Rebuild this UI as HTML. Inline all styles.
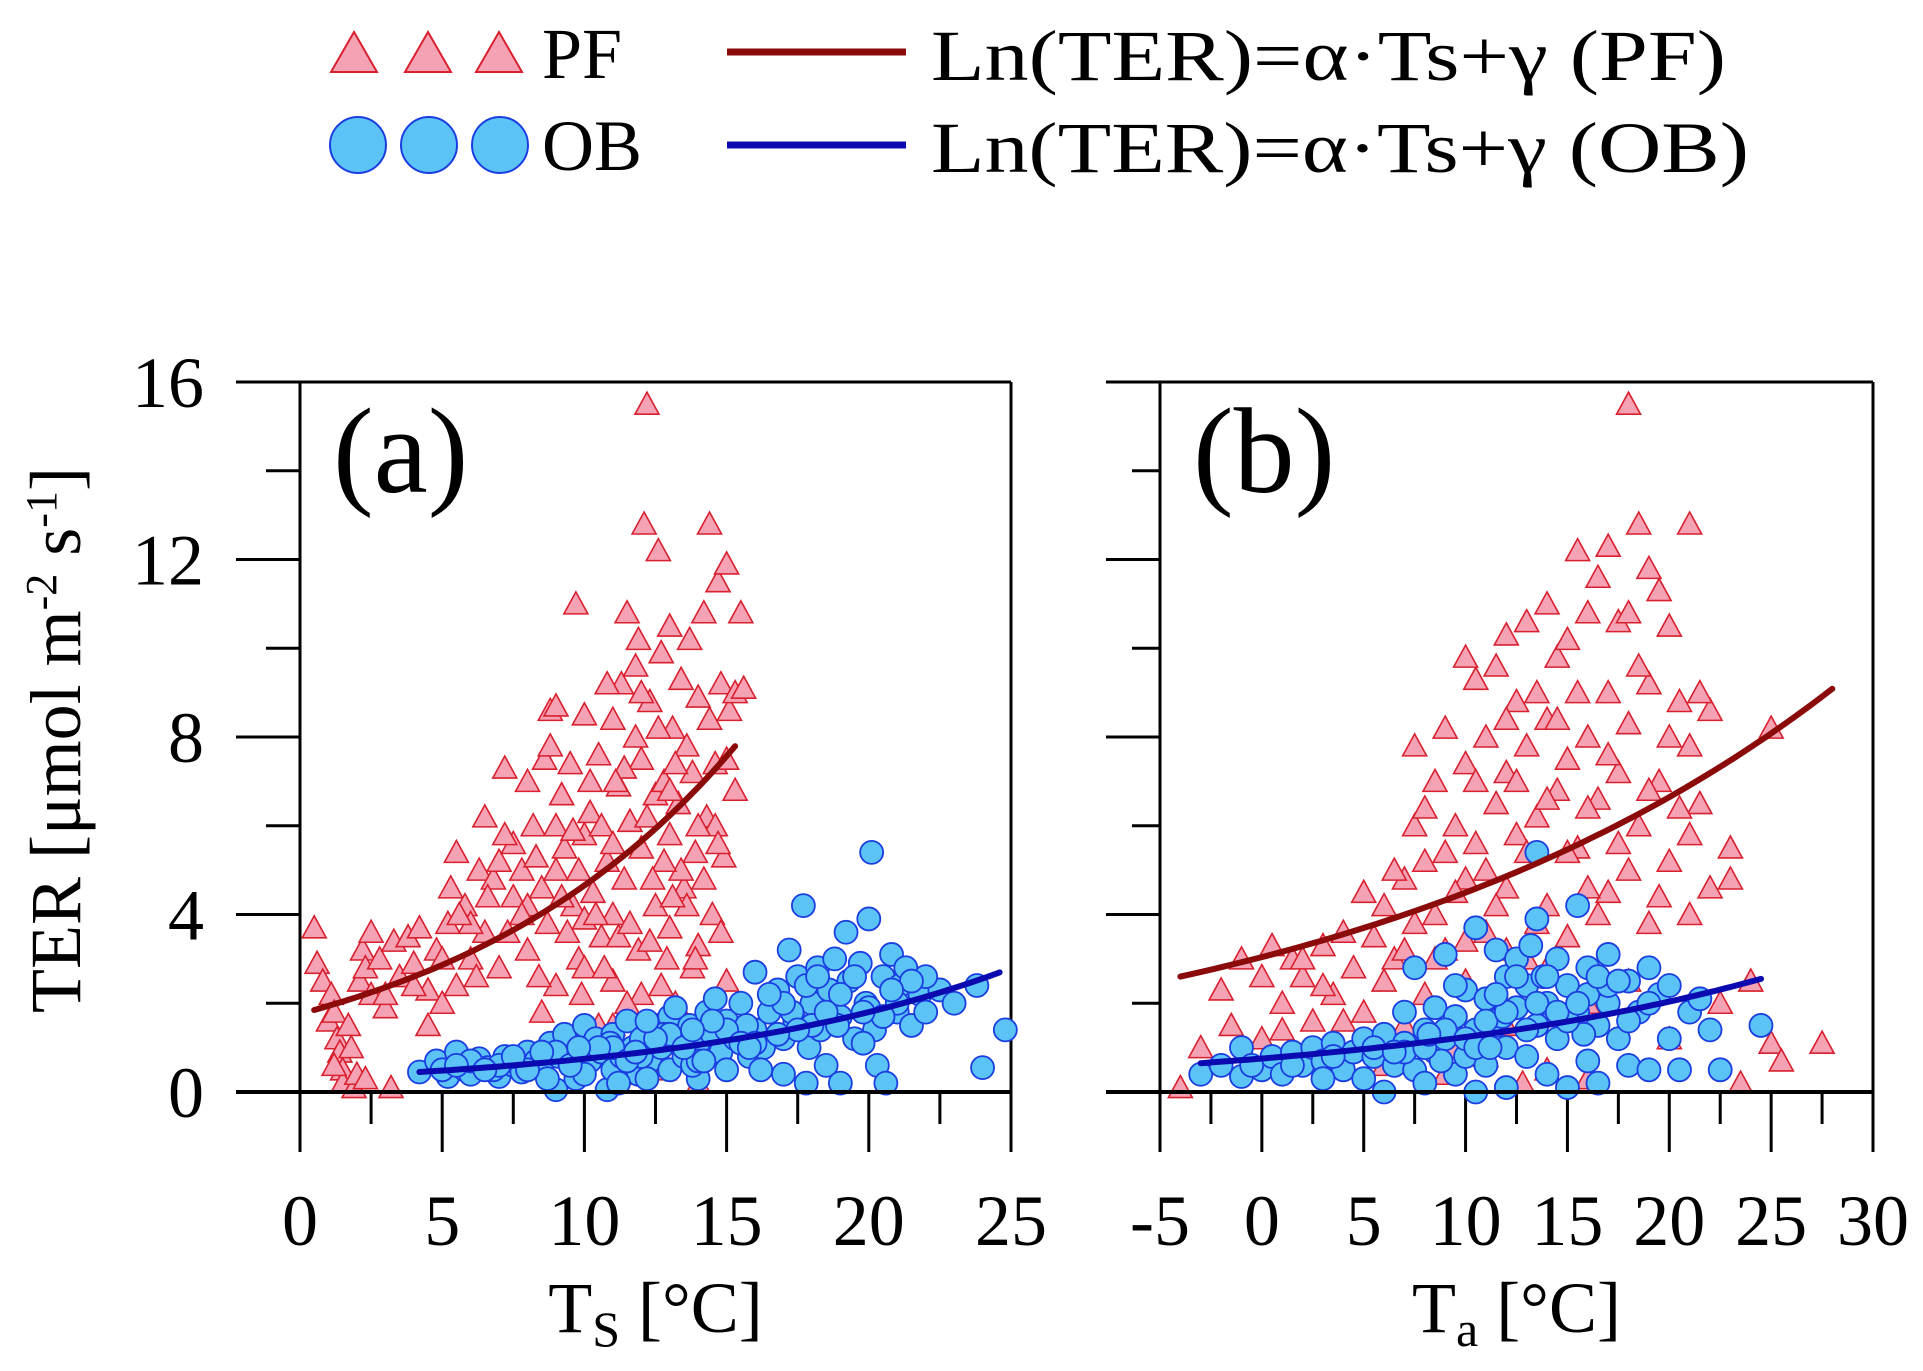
<!DOCTYPE html>
<html><head><meta charset="utf-8"><style>
html,body{margin:0;padding:0;background:#fff}
svg{display:block;font-family:"Liberation Serif","DejaVu Serif",serif}
</style></head><body>
<svg id="chart" width="1923" height="1371" viewBox="0 0 1923 1371">
<defs>
<polygon id="tri" points="0,-12 12,10 -12,10" fill="#f5a3b4" stroke="#d8202f" stroke-width="1.6"/>
</defs>
<g id="legend">
  <g>
    <polygon points="354,32 377,72 331,72" fill="#f5a3b4" stroke="#d8202f" stroke-width="2"/>
    <polygon points="428,32 451,72 405,72" fill="#f5a3b4" stroke="#d8202f" stroke-width="2"/>
    <polygon points="499,32 522,72 476,72" fill="#f5a3b4" stroke="#d8202f" stroke-width="2"/>
    <text x="542" y="78" font-size="72">PF</text>
  </g>
  <g>
    <circle cx="358" cy="145" r="28" fill="#5bc3f6" stroke="#1a3ee0" stroke-width="2"/>
    <circle cx="429" cy="145" r="28" fill="#5bc3f6" stroke="#1a3ee0" stroke-width="2"/>
    <circle cx="500" cy="145" r="28" fill="#5bc3f6" stroke="#1a3ee0" stroke-width="2"/>
    <text x="542" y="170" font-size="72">OB</text>
  </g>
  <g>
    <line x1="727" y1="52" x2="906" y2="52" stroke="#8b0a0a" stroke-width="7"/>
    <text x="931" y="80" font-size="72" textLength="795" lengthAdjust="spacingAndGlyphs">Ln(TER)=α·Ts+γ (PF)</text>
  </g>
  <g>
    <line x1="727" y1="145" x2="906" y2="145" stroke="#0a0ab0" stroke-width="7"/>
    <text x="931" y="172" font-size="72" textLength="818" lengthAdjust="spacingAndGlyphs">Ln(TER)=α·Ts+γ (OB)</text>
  </g>
</g>
<text transform="translate(80,740) rotate(-90)" text-anchor="middle" font-size="72">TER [μmol m<tspan baseline-shift="super" font-size="44">-2</tspan> s<tspan baseline-shift="super" font-size="44">-1</tspan>]</text>
<g id="pa"></g>
<g id="pb"></g>
</svg>
<script>
// Panel (a): TER vs Ts
const aPFx=[0.5,0.6,0.8,1,1.1,1.2,1.3,1.4,1.5,1.5,1.7,1.8,1.9,2,2.1,2.2,2.3,2.5,2.8,3,3.2,3.3,3.5,3.8,4,4.2,4.5,4.8,5,5.2,5.3,5.5,5.8,6,6.2,6.3,6.5,6.8,7,7.2,7.3,7.5,7.8,8,8.2,8.5,8.7,8.8,9,9.2,9.3,9.5,9.6,9.7,9.8,10,10,10.2,10.3,10.5,10.6,10.8,11,11,11.2,11.3,11.4,11.5,11.6,11.8,11.9,12,12,12.1,12.2,12.3,12.4,12.5,12.5,12.6,12.7,12.8,12.9,13,13,13.1,13.2,13.3,13.4,13.5,13.6,13.7,13.8,13.9,14,14,14.2,14.3,14.4,14.5,14.6,14.7,14.8,14.9,15,15.1,15.3,15.5,15.3,11,10,12,13,8.5,9,10.5,12.8,2.3,1.2,4.5,5.5,6.5,7,8,9,10,11,12,13,14,15,15.6,
7.5,8,8.3,8.6,9,9.4,9.8,10.2,10.6,11,11.4,11.8,12.2,12.6,13,13.4,13.8,14.2,14.6,15,8.8,9.6,10.4,11.2,12,12.8,13.6,14.4,7.8,8.4,9.2,10,10.8,11.6,12.4,13.2,14,14.8,6,6.6,7.2,5,5.6,4,3,2.5,9.9,10.7,11.5,12.3,13.1,13.9,14.7,11.1,11.9,12.7,13.5,10.3];
const aPFy=[3.7,2.9,2.5,1.6,2.2,1.8,1.2,0.9,0.5,0.2,1.5,1.0,0.1,0.4,2.5,3.2,2.8,2.2,3.0,1.9,0.1,3.4,2.6,3.5,2.9,3.7,2.3,3.2,2.0,3.8,4.6,5.4,4.2,3.0,2.6,5.0,6.2,4.8,5.2,7.3,3.6,4.4,5.0,3.2,6.0,4.6,3.8,8.6,8.7,6.7,5.5,7.4,4.2,11.0,3.0,8.5,5.8,6.3,4.5,7.6,3.5,5.2,8.4,2.5,6.9,9.2,4.8,10.8,6.1,9.6,3.2,7.5,5.5,12.8,15.5,8.8,1.0,6.7,4.2,12.2,9.9,7.0,3.0,10.5,5.8,8.2,2.0,6.5,9.3,4.6,7.8,10.2,2.8,5.4,8.9,0.2,10.8,6.2,12.8,4.0,7.4,11.5,9.2,5.3,11.9,8.6,9.0,10.8,6.8,1.5,0.8,0.4,1.3,1.8,2.4,1.5,0.5,0.3,0.6,1.5,2.4,3.6,2.8,7.0,5.0,3.9,4.0,2.2,3.7,3.3,2.5,9.1,
5.6,4.2,5.3,7.5,6.0,3.6,5.0,7.0,6.0,5.6,7.3,8.0,6.2,8.2,6.8,5.0,7.2,4.8,6.0,7.5,7.8,5.9,4.0,3.5,9.0,5.2,4.2,8.4,4.0,2.6,4.4,2.8,9.2,3.8,4.8,7.4,6.0,3.6,3.8,4.4,5.8,3.0,4.0,2.4,2.2,3.6,2.2,2.8,2.0,3.4,4.4,3.0,5.6,7.0,10.2,2.4,1.2,1.0];
const aOBx=[4.2,4.8,5.2,5.5,5.8,6,6.3,6.6,7,7.2,7.5,7.8,8,8.3,8.5,8.8,9,9.1,9.3,9.5,9.7,9.9,10,10.2,10.4,10.6,10.8,11,11,11.3,11.5,11.7,11.9,12,12.3,12.5,12.7,13,13,13.3,13.5,13.7,14,14,14.3,14.5,14.8,15,15,15.3,15.5,15.8,16,16,16.3,16.5,16.8,17,17,17.2,17.4,17.5,17.7,17.8,17.9,18,18.2,18.3,18.5,18.6,18.8,19,19,19.2,19.3,19.5,19.7,19.9,20,20.1,20.2,20.3,20.5,20.6,20.8,21,21.1,21.3,21.5,21.8,22,22.5,23,23.8,24,24.8,6.8,8.7,11.2,12.2,13.8,16.2,19.8,18.9,17.3,15.7,14.6,13.2,12.8,10.9,
5,6,7,8,9,10,11,12,13,14,15,16,17,18,19,20,21,22,5.5,6.5,7.5,8.5,9.5,10.5,11.5,12.5,13.5,14.5,15.5,16.5,17.5,18.5,19.5,20.5,21.5,9.8,11.8,13.8,15.8,17.8,19.8,16.8,18.2,20.8,14.2,12.2];
const aOBy=[0.45,0.7,0.35,0.9,0.5,0.4,0.75,0.55,0.35,0.8,0.6,0.45,0.9,0.7,0.5,1.1,0.05,0.8,1.3,0.6,0.3,1.0,1.5,0.7,1.2,0.9,0.05,0.5,1.3,0.8,1.6,1.0,0.4,1.2,0.7,1.5,1.0,1.7,0.5,1.2,0.8,1.5,1.1,0.3,1.8,1.3,0.9,1.6,0.5,1.2,2.0,0.8,1.4,2.7,1.0,1.8,2.3,0.4,1.2,3.2,1.6,2.6,4.2,0.2,1.0,2.0,2.8,1.4,0.6,2.3,3.0,1.7,0.2,3.6,2.5,1.2,2.9,2.0,3.9,5.4,1.4,0.6,2.6,0.2,3.1,1.8,2.4,2.8,1.5,2.2,1.8,2.3,2.0,2.4,0.55,1.4,0.5,0.3,0.2,0.3,0.6,0.5,1.1,1.5,1.8,1.5,2.1,1.9,1.3,1.1,
0.5,0.7,0.6,0.5,0.9,0.4,1.0,0.8,1.3,0.7,1.4,1.1,2.0,1.5,2.2,1.9,2.0,2.6,0.6,0.5,0.8,0.9,0.6,1.0,0.7,1.2,1.0,1.6,1.1,2.2,1.4,1.8,2.6,1.7,2.5,1.0,0.9,1.4,1.0,2.4,1.8,1.3,2.6,2.3,0.7,1.6];
const aFitPF=[0.0972,0.566,0.5,15.3]; // alpha, gamma, xmin, xmax
const aFitOB=[0.0878,-1.168,4.2,24.6];
const aXTicks=[0,5,10,15,20,25];
// Panel (b): TER vs Ta
const bPFx=[-4,-3,-2,-1.5,-1,0,0,0.5,1,1.5,2,2.5,3,3.5,4,4.5,5,5,5.5,6,6,6.5,7,7,7.5,7.5,8,8,8.5,8.5,9,9,9.5,9.5,10,10,10,10.5,10.5,11,11,11,11.5,11.5,12,12,12,12,12.5,12.5,13,13,13,13.5,13.5,14,14,14,14,14.5,14.5,15,15,15,15.5,15.5,16,16,16,16.5,16.5,17,17,17,17.5,17.5,18,18,18,18.5,18.5,19,19,19,19.5,19.5,20,20,20,20.5,21,21,21,21.5,22,22,22.5,23,23,23.5,24,25,25,25.5,27.5,3,6,9,12.8,16,
6.5,7.5,8.5,9.5,10.5,11.5,12.5,13.5,14.5,15.5,16.5,17.5,18.5,19.5,20.5,21.5,7,8,9,10,11,12,13,14,15,16,17,18,19,20,21,12,14,16,18,10,4,3,2,1];
const bPFy=[0.1,1.0,2.3,1.5,3.0,2.6,1.2,3.3,2.0,3.0,2.6,1.6,3.3,2.2,3.6,2.8,4.5,1.8,3.5,4.2,2.5,3.0,4.8,1.5,7.8,3.8,5.2,2.2,7.0,4.0,8.2,3.2,6.0,1.0,7.4,4.8,2.5,9.3,5.6,8.0,3.6,0.8,9.6,6.5,10.3,7.2,4.6,1.5,8.8,5.8,10.6,7.8,3.0,9.0,6.2,11.0,8.4,4.2,0.5,9.8,6.8,10.2,7.5,3.5,12.2,5.5,10.8,8.0,2.0,11.6,6.6,12.3,9.0,4.5,10.6,7.2,15.5,8.3,2.5,12.8,6.0,11.8,9.2,3.8,11.3,7.0,10.5,5.2,1.2,8.8,12.8,7.8,4.0,6.5,4.6,8.6,2.0,5.5,4.8,0.2,2.5,8.2,1.1,0.7,1.1,0.9,0.6,0.4,0.2,0.3,
5.0,6.0,3.0,4.5,7.0,4.2,7.0,3.8,8.4,9.0,4.0,5.6,9.6,4.4,6.4,9.0,3.2,6.4,5.4,9.8,5.0,8.4,5.4,6.6,5.4,4.6,7.6,10.8,6.8,8.0,5.8,3.2,2.8,6.4,5.0,3.4,1.6,2.4,3.0,1.4];
const bOBx=[-3,-2,-1,-1,0,0.5,1,1.5,2,2.5,3,3.5,4,4.5,5,5,5.5,6,6,6.5,7,7,7.5,7.5,8,8,8.5,8.5,9,9,9.5,9.5,10,10,10.5,10.5,10.5,11,11,11.5,11.5,12,12,12,12.5,12.5,13,13,13.5,13.5,13.5,14,14,14.5,14.5,15,15,15.5,15.5,16,16,16.5,16.5,17,17,17.5,18,18,18.5,19,19,19.5,20,20,20.5,21,21.5,22,22.5,24.5,3,8.8,11.8,13.8,15.8,
7,8,9,10,11,12,13,14,15,16,17,18,19,9.5,10.5,11.5,12.5,13.5,14.5,15.5,16.5,17.5,-0.5,1.5,3.5,5.5,6.5,8.2,11.2,13.2];
const bOBy=[0.4,0.6,1.0,0.35,0.5,0.8,0.4,0.9,0.6,1.0,0.7,1.1,0.5,0.9,1.2,0.3,0.8,1.3,0.0,0.6,1.1,1.8,2.8,0.5,1.4,0.2,1.9,0.9,3.1,1.2,0.4,1.7,2.3,0.8,3.7,1.4,0.0,2.1,0.6,1.5,3.2,2.6,1.0,0.1,1.9,3.0,2.4,0.8,3.9,5.4,1.5,2.0,0.4,3.0,1.2,2.4,0.1,4.2,1.8,2.8,0.7,1.5,0.2,3.1,2.0,1.2,2.5,0.6,1.8,2.8,0.5,2.2,2.4,1.2,0.5,1.8,2.1,1.4,0.5,1.5,0.3,0.7,1.7,2.6,1.3,
0.9,1.0,1.4,1.2,1.6,1.8,1.4,2.6,1.6,2.2,2.4,1.6,2.0,2.4,1.0,2.2,2.6,2.0,1.8,2.0,2.6,2.5,0.6,0.6,0.8,1.0,0.9,1.3,1.0,3.3];
const bFitPF=[0.0391,1.112,-4,28];
const bFitOB=[0.0497,-0.282,-3,24.5];
const bXTicks=[-5,0,5,10,15,20,25,30];
const yTicks=[0,4,8,12,16];

const NS="http://www.w3.org/2000/svg";
function mk(parent,tag,attrs){const e=document.createElementNS(NS,tag);for(const k in attrs)e.setAttribute(k,attrs[k]);parent.appendChild(e);return e;}
const Y0=1092,Y16=382,BOT=1152,MINB=1124;
function yScale(v){return Y0+(Y16-Y0)*v/16;}

function panel(g,xL,xR,xmin,xmax,ticks,PFx,PFy,OBx,OBy,fitPF,fitOB,label,labels,sub){
  const xs=v=>xL+(xR-xL)*(v-xmin)/(xmax-xmin);
  const st={stroke:"#000","stroke-width":3};
  let e=mk(g,"line",{x1:xL,y1:Y16,x2:xL,y2:BOT,...st});
  
  
  e=mk(g,"line",{x1:xR,y1:Y16,x2:xR,y2:BOT,...st});
  
  
  e=mk(g,"line",{x1:labels?236:1106,y1:Y16,x2:xR,y2:Y16,...st});
  
  
  for(let v=0;v<=16;v+=2){
    const major=v%4===0;
    const t=mk(g,"line",{x1:labels?(major?236:266):(major?1106:1132),y1:yScale(v),x2:xL,y2:yScale(v),...st});
    
    
  }
  if(labels){
    yTicks.forEach(v=>{
      const t=mk(g,"text",{x:204,y:yScale(v)+25,"text-anchor":"end","font-size":72});
      t.textContent=v;
      
      
    });
  }
  for(let i=0;i<ticks.length;i++){
    const v=ticks[i];
    let t=mk(g,"line",{x1:xs(v),y1:Y0,x2:xs(v),y2:BOT,...st});
    
    
    if(i<ticks.length-1){
      t=mk(g,"line",{x1:xs(v+2.5),y1:Y0,x2:xs(v+2.5),y2:MINB,...st});
      
      
    }
    const tl=mk(g,"text",{x:xs(v),y:1245,"text-anchor":"middle","font-size":72});
    tl.textContent=v;
    
    
  }
  for(let i=0;i<PFx.length;i++){
    const p=mk(g,"use",{href:"#tri",x:xs(PFx[i]),y:yScale(PFy[i])});
    
    
  }
  for(let i=0;i<OBx.length;i++){
    const p=mk(g,"circle",{cx:xs(OBx[i]),cy:yScale(OBy[i]),r:11.5,fill:"#5bc3f6",stroke:"#1a3ee0","stroke-width":1.8});
    
    
  }
  e=mk(g,"line",{x1:labels?236:1106,y1:Y0,x2:xR,y2:Y0,stroke:"#000","stroke-width":4});
  
  
  function curve(f,color,name){
    let d="";
    for(let k=0;k<=60;k++){const x=f[2]+(f[3]-f[2])*k/60;const y=Math.exp(f[0]*x+f[1]);d+=(k?"L":"M")+xs(x).toFixed(1)+","+yScale(y).toFixed(1);}
    const c=mk(g,"path",{d:d,fill:"none",stroke:color,"stroke-width":6,"stroke-linecap":"round"});
    
    
  }
  curve(fitPF,"#8b0a0a","pf-fit-line");
  curve(fitOB,"#0a0ab0","ob-fit-line");
  const pl=mk(g,"text",{x:xL+33,y:492,"font-size":122});
  pl.textContent=label;
  
  
  const xt=mk(g,"text",{x:(xL+xR)/2,y:1332,"text-anchor":"middle","font-size":72});
  xt.innerHTML='T<tspan font-size="50" dy="14">'+sub+'</tspan><tspan dy="-14"> [°C]</tspan>';
  
  
}
panel(document.getElementById('pa'),300,1011,0,25,aXTicks,aPFx,aPFy,aOBx,aOBy,aFitPF,aFitOB,"(a)",true,"S");
panel(document.getElementById('pb'),1160,1873,-5,30,bXTicks,bPFx,bPFy,bOBx,bOBy,bFitPF,bFitOB,"(b)",false,"a");
</script>
</body></html>
